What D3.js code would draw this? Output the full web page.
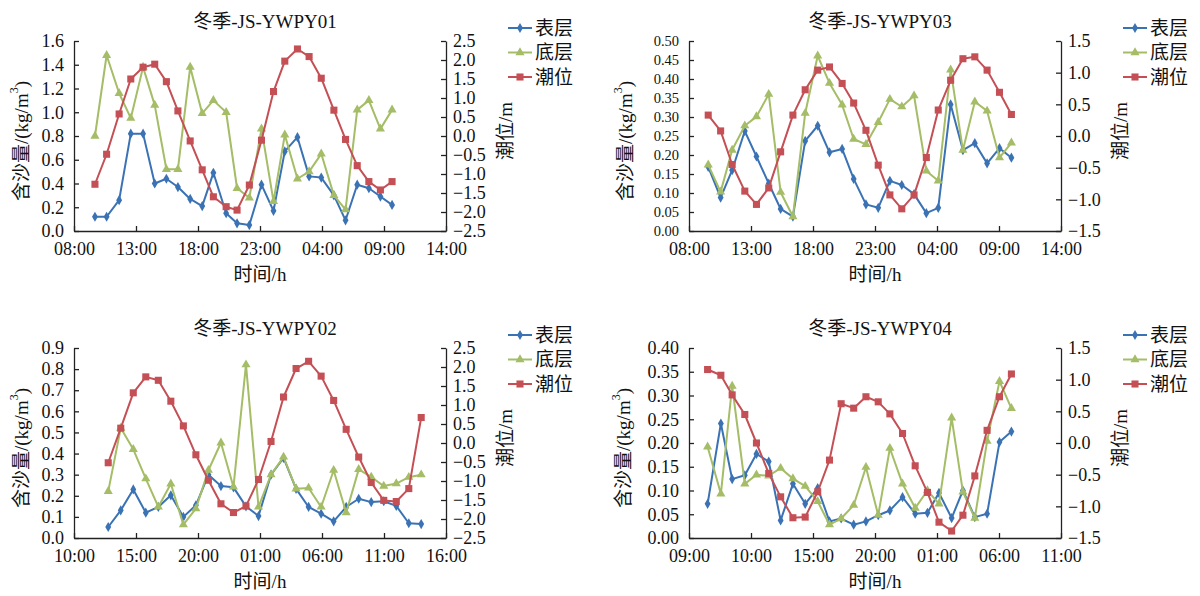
<!DOCTYPE html>
<html>
<head>
<meta charset="utf-8">
<script src="https://cdn.jsdelivr.net/npm/d3@7"></script>
<style>
    body { margin: 0; background: #fff; }
    svg text { font-family: "Liberation Serif", "Times New Roman", "Noto Sans CJK SC", serif; fill: #111; }
</style>
</head>
<body>
<svg id="chart" width="1200" height="596"></svg>
<script>
// series names
var seriesNames = ["表层", "底层", "潮位"];

// 冬季-JS-YWPY01 (hours after 08:00)
var time01 = [1.69, 2.63, 3.64, 4.58, 5.57, 6.51, 7.45, 8.38, 9.37, 10.34, 11.24, 12.27, 13.15,
    14.14, 15.12, 16.09, 17.0, 18.02, 18.96, 19.94, 20.96, 21.9, 22.84, 23.78, 24.71, 25.65];
var surf01 = [0.12, 0.12, 0.26, 0.82, 0.82, 0.40, 0.44, 0.37, 0.27, 0.21, 0.49, 0.15, 0.065,
    0.05, 0.39, 0.17, 0.67, 0.79, 0.46, 0.45, 0.30, 0.09, 0.39, 0.36, 0.29, 0.22];
var bott01 = [0.80, 1.48, 1.16, 0.95, 1.38, 1.06, 0.52, 0.52, 1.38, 0.99, 1.10, 1.0, 0.36,
    0.28, 0.86, 0.25, 0.81, 0.44, 0.50, 0.65, 0.30, 0.18, 1.02, 1.10, 0.86, 1.02];
var tide01 = [-1.27, -0.48, 0.58, 1.5, 1.81, 1.89, 1.43, 0.66, -0.13, -0.89, -1.6, -1.86, -1.95,
    -1.29, -0.11, 1.17, 1.97, 2.29, 2.09, 1.52, 0.68, -0.09, -0.78, -1.2, -1.42, -1.2];

// 冬季-JS-YWPY03
var time03 = [1.55, 2.55, 3.48, 4.5, 5.44, 6.43, 7.39, 8.38, 9.37, 10.38, 11.33, 12.35, 13.28,
    14.27, 15.26, 16.2, 17.16, 18.15, 19.14, 20.1, 21.1, 22.09, 23.05, 24.04, 25.04, 26.0];
var surf03 = [0.169, 0.088, 0.16, 0.263, 0.196, 0.125, 0.058, 0.038, 0.237, 0.277, 0.207, 0.216, 0.137,
    0.07, 0.061, 0.132, 0.121, 0.097, 0.047, 0.061, 0.333, 0.213, 0.231, 0.178, 0.218, 0.193];
var bott03 = [0.174, 0.103, 0.213, 0.277, 0.301, 0.36, 0.102, 0.038, 0.31, 0.461, 0.389, 0.332, 0.242,
    0.228, 0.286, 0.347, 0.327, 0.356, 0.158, 0.132, 0.424, 0.213, 0.34, 0.316, 0.193, 0.232];
var tide03 = [0.33, 0.08, -0.45, -0.87, -1.08, -0.82, -0.25, 0.33, 0.73, 1.04, 1.09, 0.83, 0.52,
    0.09, -0.46, -0.93, -1.15, -0.93, -0.34, 0.41, 0.88, 1.22, 1.25, 1.04, 0.69, 0.34];

// 冬季-JS-YWPY02 (hours after 10:00)
var time02 = [2.76, 3.77, 4.78, 5.79, 6.80, 7.81, 8.82, 9.83, 10.84, 11.85, 12.86, 13.87, 14.88,
    15.89, 16.90, 17.91, 18.92, 19.93, 20.94, 21.95, 22.96, 23.97, 24.98, 25.99, 27.0, 28.0];
var surf02 = [0.052, 0.131, 0.23, 0.12, 0.147, 0.202, 0.10, 0.155, 0.30, 0.246, 0.24, 0.15, 0.104,
    0.30, 0.379, 0.233, 0.147, 0.115, 0.079, 0.147, 0.186, 0.17, 0.174, 0.152, 0.07, 0.066];
var bott02 = [0.221, 0.521, 0.42, 0.281, 0.147, 0.257, 0.063, 0.139, 0.321, 0.451, 0.242, 0.821, 0.147,
    0.30, 0.384, 0.233, 0.237, 0.147, 0.321, 0.12, 0.325, 0.289, 0.246, 0.258, 0.288, 0.30];
var tide02 = [-0.52, 0.39, 1.32, 1.74, 1.65, 1.10, 0.45, -0.31, -0.98, -1.6, -1.83, -1.66, -0.96,
    0.04, 1.21, 1.96, 2.15, 1.76, 1.12, 0.36, -0.37, -1.04, -1.51, -1.54, -1.20, 0.67];

// 冬季-JS-YWPY04
var time04 = [1.5, 2.57, 3.48, 4.5, 5.44, 6.43, 7.39, 8.38, 9.37, 10.38, 11.33, 12.27, 13.28,
    14.27, 15.26, 16.2, 17.22, 18.24, 19.23, 20.16, 21.18, 22.09, 23.05, 24.04, 25.04, 26.0];
var surf04 = [0.072, 0.241, 0.124, 0.132, 0.177, 0.161, 0.037, 0.114, 0.072, 0.105, 0.035, 0.041, 0.028,
    0.035, 0.048, 0.058, 0.086, 0.051, 0.053, 0.095, 0.042, 0.10, 0.044, 0.051, 0.202, 0.224];
var bott04 = [0.192, 0.093, 0.32, 0.114, 0.133, 0.131, 0.147, 0.125, 0.109, 0.077, 0.028, 0.041, 0.069,
    0.149, 0.048, 0.189, 0.114, 0.063, 0.10, 0.072, 0.253, 0.097, 0.042, 0.204, 0.33, 0.273];
var tide04 = [1.16, 1.07, 0.76, 0.45, 0.0, -0.48, -0.85, -1.18, -1.17, -0.77, -0.27, 0.62, 0.55,
    0.73, 0.65, 0.46, 0.15, -0.36, -0.78, -1.25, -1.39, -1.14, -0.52, 0.2, 0.73, 1.09];

// tick labels
var xLabels01 = ["08:00", "13:00", "18:00", "23:00", "04:00", "09:00", "14:00"];
var xLabels02 = ["10:00", "15:00", "20:00", "01:00", "06:00", "11:00", "16:00"];
var xLabels04 = ["09:00", "10:00", "15:00", "20:00", "01:00", "06:00", "11:00"];
var xTickHours = [0, 5, 10, 15, 20, 25, 30];
var leftTicks01 = [0, 0.2, 0.4, 0.6, 0.8, 1.0, 1.2, 1.4, 1.6];
var leftTicks02 = [0, 0.1, 0.2, 0.3, 0.4, 0.5, 0.6, 0.7, 0.8, 0.9];
var leftTicks03 = [0, 0.05, 0.1, 0.15, 0.2, 0.25, 0.3, 0.35, 0.4, 0.45, 0.5];
var leftTicks04 = [0, 0.05, 0.1, 0.15, 0.2, 0.25, 0.3, 0.35, 0.4];
var rightTicks25 = [-2.5, -2, -1.5, -1, -0.5, 0, 0.5, 1, 1.5, 2, 2.5];
var rightTicks15 = [-1.5, -1, -0.5, 0, 0.5, 1, 1.5];

var colors = ["#3a72b4", "#a4bd66", "#c44f55"];
var symbols = [d3.symbolDiamond, d3.symbolTriangle, d3.symbolSquare];
var symbolSizes = [30, 36, 50];

var panels = [
    { title: "冬季-JS-YWPY01", x0: 74, x1: 446, y0: 41, y1: 231, time: time01, series: [surf01, bott01, tide01],
      xLabels: xLabels01, leftTicks: leftTicks01, leftFmt: ".1f", rightTicks: rightTicks25, leftFont: 18, leftTitleDx: 53 },
    { title: "冬季-JS-YWPY03", x0: 689, x1: 1061, y0: 41, y1: 231, time: time03, series: [surf03, bott03, tide03],
      xLabels: xLabels01, leftTicks: leftTicks03, leftFmt: ".2f", rightTicks: rightTicks15, leftFont: 14.5, leftTitleDx: 64 },
    { title: "冬季-JS-YWPY02", x0: 74, x1: 446, y0: 348, y1: 538, time: time02, series: [surf02, bott02, tide02],
      xLabels: xLabels02, leftTicks: leftTicks02, leftFmt: ".1f", rightTicks: rightTicks25, leftFont: 18, leftTitleDx: 53 },
    { title: "冬季-JS-YWPY04", x0: 689, x1: 1061, y0: 348, y1: 538, time: time04, series: [surf04, bott04, tide04],
      xLabels: xLabels04, leftTicks: leftTicks04, leftFmt: ".2f", rightTicks: rightTicks15, leftFont: 18, leftTitleDx: 66 }
];

var svg = d3.select("#chart");

function styleAxis(g, fontSize) {
    g.select(".domain").attr("stroke", "#222").attr("stroke-width", 1.3);
    g.selectAll(".tick line").attr("stroke", "#222").attr("stroke-width", 1.3);
    g.selectAll(".tick text").attr("font-size", fontSize).attr("fill", "#111");
    g.attr("font-family", null);
}

function drawPanel(p) {
    var g = svg.append("g");

    var x = d3.scaleLinear().domain([0, 30]).range([p.x0, p.x1]);
    var yL = d3.scaleLinear()
        .domain([p.leftTicks[0], p.leftTicks[p.leftTicks.length - 1]])
        .range([p.y1, p.y0]);
    var yR = d3.scaleLinear()
        .domain([p.rightTicks[0], p.rightTicks[p.rightTicks.length - 1]])
        .range([p.y1, p.y0]);

    var gx = g.append("g")
        .attr("transform", "translate(0," + p.y1 + ")")
        .call(d3.axisBottom(x).tickValues(xTickHours).tickSizeInner(-5).tickSizeOuter(0).tickPadding(11)
            .tickFormat(function (d, i) { return p.xLabels[i]; }));
    styleAxis(gx, 18);

    var gl = g.append("g")
        .attr("transform", "translate(" + p.x0 + ",0)")
        .call(d3.axisLeft(yL).tickValues(p.leftTicks).tickSizeInner(-5).tickSizeOuter(0).tickPadding(10)
            .tickFormat(d3.format(p.leftFmt)));
    styleAxis(gl, p.leftFont);

    var gr = g.append("g")
        .attr("transform", "translate(" + p.x1 + ",0)")
        .call(d3.axisRight(yR).tickValues(p.rightTicks).tickSizeInner(-5).tickSizeOuter(0).tickPadding(7)
            .tickFormat(d3.format(".1f")));
    styleAxis(gr, 18);

    // series: first two on left axis, tide on right axis
    p.series.forEach(function (values, k) {
        var ys = (k == 2) ? yR : yL;
        var line = d3.line()
            .x(function (d, i) { return x(p.time[i]); })
            .y(function (d) { return ys(d); });

        g.append("path")
            .datum(values)
            .attr("d", line)
            .attr("fill", "none")
            .attr("stroke", colors[k])
            .attr("stroke-width", 2)
            .attr("stroke-linejoin", "round");

        g.selectAll("path.m" + k)
            .data(values)
            .enter()
            .append("path")
            .attr("class", "m" + k)
            .attr("d", d3.symbol().type(symbols[k]).size(symbolSizes[k]))
            .attr("transform", function (d, i) {
                return "translate(" + x(p.time[i]) + "," + ys(d) + ")";
            })
            .attr("fill", colors[k]);
    });

    // title
    g.append("text")
        .attr("x", (p.x0 + p.x1) / 2 + 5)
        .attr("y", p.y0 - 20)
        .attr("text-anchor", "middle")
        .attr("dominant-baseline", "central")
        .attr("font-size", 19)
        .text(p.title);

    // x title
    g.append("text")
        .attr("x", (p.x0 + p.x1) / 2)
        .attr("y", p.y1 + 43)
        .attr("text-anchor", "middle")
        .attr("dominant-baseline", "central")
        .attr("font-size", 19)
        .text("时间/h");

    // left title
    var lt = g.append("text")
        .attr("transform", "translate(" + (p.x0 - p.leftTitleDx) + "," + ((p.y0 + p.y1) / 2 + 5) + ") rotate(-90)")
        .attr("text-anchor", "middle")
        .attr("dominant-baseline", "central")
        .attr("font-size", 19);
    lt.append("tspan").text("含沙量/(kg/m");
    lt.append("tspan").attr("font-size", 12).attr("dy", "-0.55em").text("3");
    lt.append("tspan").attr("dy", "0.35em").text(")");

    // right title
    g.append("text")
        .attr("transform", "translate(" + (p.x1 + 59) + "," + ((p.y0 + p.y1) / 2 - 5) + ") rotate(-90)")
        .attr("text-anchor", "middle")
        .attr("dominant-baseline", "central")
        .attr("font-size", 19)
        .text("潮位/m");

    // legend
    var lx = p.x1 + 62;
    seriesNames.forEach(function (name, k) {
        var ly = p.y0 - 13 + k * 24.5;
        g.append("line")
            .attr("x1", lx).attr("x2", lx + 24)
            .attr("y1", ly).attr("y2", ly)
            .attr("stroke", colors[k]).attr("stroke-width", 2);
        g.append("path")
            .attr("d", d3.symbol().type(symbols[k]).size(symbolSizes[k]))
            .attr("transform", "translate(" + (lx + 12) + "," + ly + ")")
            .attr("fill", colors[k]);
        g.append("text")
            .attr("x", lx + 27)
            .attr("y", ly)
            .attr("dominant-baseline", "central")
            .attr("font-size", 19)
            .text(name);
    });
}

panels.forEach(drawPanel);
</script>
</body>
</html>
